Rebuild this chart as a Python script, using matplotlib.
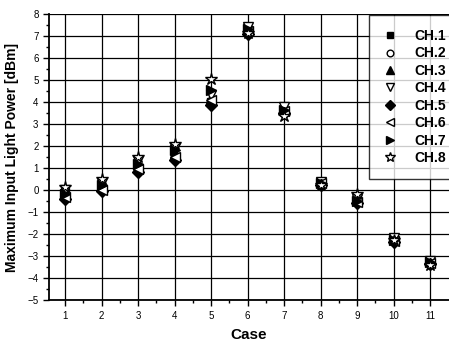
import matplotlib
matplotlib.use("Agg")
import matplotlib.pyplot as plt
import numpy as np

plt.rcParams["font.family"] = ["Liberation Sans", "DejaVu Sans"]

cases = [1, 2, 3, 4, 5, 6, 7, 8, 9, 10, 11]

# maximum input light power [dBm] per channel
ch1 = [-0.10, 0.10, 1.00, 1.50, 4.00, 7.25, 3.60, 0.30, -0.50, -2.25, -3.25]
ch2 = [-0.20, 0.00, 0.90, 1.40, 3.90, 7.20, 3.55, 0.30, -0.55, -2.30, -3.30]
ch3 = [-0.05, 0.20, 1.20, 1.70, 4.20, 7.35, 3.70, 0.35, -0.45, -2.20, -3.20]
ch4 = [0.00, 0.30, 1.30, 1.90, 4.30, 7.40, 3.75, 0.35, -0.40, -2.20, -3.20]
ch5 = [-0.40, -0.05, 0.80, 1.35, 3.85, 7.10, 3.50, 0.25, -0.60, -2.35, -3.35]
ch6 = [-0.30, 0.00, 0.95, 1.50, 4.10, 7.20, 3.60, 0.30, -0.55, -2.30, -3.30]
ch7 = [-0.20, 0.25, 1.20, 1.80, 4.55, 7.30, 3.65, 0.30, -0.50, -2.25, -3.25]
ch8 = [0.15, 0.50, 1.50, 2.10, 5.05, 7.15, 3.35, 0.25, -0.20, -2.25, -3.40]

series = [ch1, ch2, ch3, ch4, ch5, ch6, ch7, ch8]
labels = ["CH.1", "CH.2", "CH.3", "CH.4", "CH.5", "CH.6", "CH.7", "CH.8"]
markers = ["s", "o", "^", "v", "D", "<", ">", "*"]
filled = [True, False, True, False, True, False, True, False]
sizes = [6, 6, 7, 7, 6, 7, 7, 9]

fig = plt.figure(figsize=(4.49, 3.47), dpi=100)
ax = fig.add_axes([0.109, 0.135, 0.891, 0.825])

for vals, lab, m, f, s in zip(series, labels, markers, filled, sizes):
    ax.plot(cases, vals, linestyle="none", marker=m, ms=s,
            mfc="black" if f else "white", mec="black", mew=1.0, label=lab)

ax.set_xlim(0.56, 11.52)
ax.set_ylim(-5, 8)
ax.set_xticks(cases)
ax.set_xticks(np.arange(1.5, 11.5, 1), minor=True)
ax.set_yticks(np.arange(-5, 9, 1))
ax.set_yticks(np.arange(-4.5, 8, 1), minor=True)
ax.tick_params(axis="both", which="major", labelsize=7, length=4, width=1)
ax.tick_params(axis="both", which="minor", length=2.5, width=1)
ax.grid(True, which="major", color="black", linewidth=0.9)
ax.set_axisbelow(True)

for side in ["top", "right"]:
    ax.spines[side].set_visible(False)
for side in ["left", "bottom"]:
    ax.spines[side].set_linewidth(1.3)

ax.set_xlabel("Case", fontsize=11, fontweight="bold", labelpad=5)
ax.set_ylabel("Maximum Input Light Power [dBm]", fontsize=10, fontweight="bold", labelpad=6)

leg = ax.legend(loc="upper left", bbox_to_anchor=(369 / 449, 1 - 15 / 347),
                bbox_transform=fig.transFigure, frameon=True, fancybox=False,
                edgecolor="black", fontsize=10, handlelength=1.0, handletextpad=1.3,
                labelspacing=0.25, borderpad=1.0, borderaxespad=0, markerscale=0.8)
leg.get_frame().set_linewidth(1.0)
for t in leg.get_texts():
    t.set_fontweight("bold")

fig.savefig("out.png", dpi=100)
